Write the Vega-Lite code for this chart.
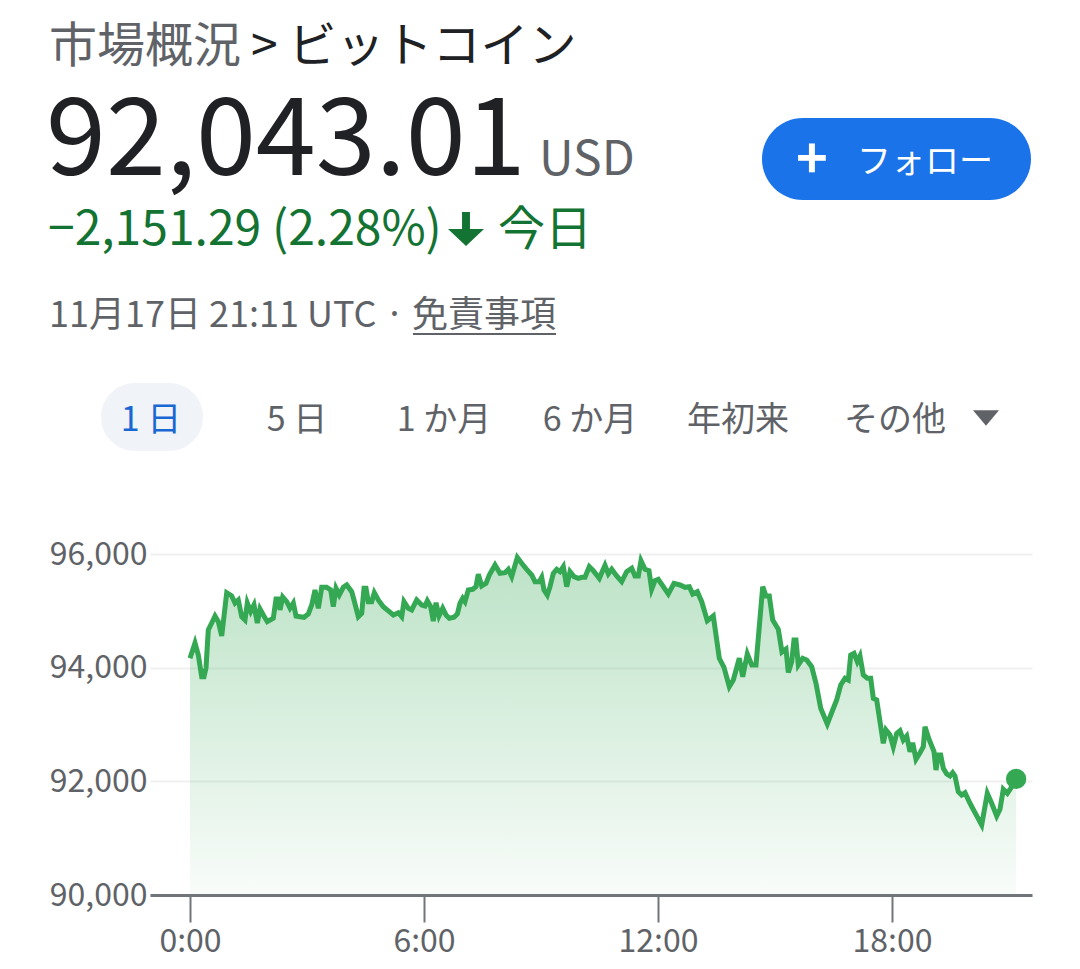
{
  "$schema": "https://vega.github.io/schema/vega-lite/v6.json",
  "padding": {"left": 0, "top": 0, "right": 0, "bottom": 10},
  "spacing": 0,
  "bounds": "flush",
  "background": "white",
  "config": {
    "view": {"stroke": null},
    "font": "Noto Sans CJK JP",
    "text": {"font": "Noto Sans CJK JP"},
    "axis": {"labelFont": "Noto Sans CJK JP", "titleFont": "Noto Sans CJK JP"}
  },
  "datasets": {
    "header": [
      {"id": "crumb", "text": "市場概況"},
      {"id": "crumb2", "text": "> ビットコイン"},
      {"id": "price", "text": "92,043.01"},
      {"id": "ccy", "text": "USD"},
      {"id": "change", "text": "−2,151.29 (2.28%)"},
      {"id": "arrow", "text": "↓"},
      {"id": "today", "text": "今日"},
      {"id": "time", "text": "11月17日 21:11 UTC ·"},
      {"id": "disclaimer", "text": "免責事項"},
      {"id": "button", "text": "フォロー"},
      {"id": "plus", "text": "+"},
      {"id": "follow", "text": "フォロー"},
      {"id": "tab1", "text": "1 日"},
      {"id": "tab2", "text": "5 日"},
      {"id": "tab3", "text": "1 か月"},
      {"id": "tab4", "text": "6 か月"},
      {"id": "tab5", "text": "年初来"},
      {"id": "tab6", "text": "その他"},
      {"id": "more", "text": "▼"}
    ],
    "prices": [
      {"hour": 0, "price": 94165}, {"hour": 0.128, "price": 94434}, {"hour": 0.213, "price": 94223}, {"hour": 0.3, "price": 93841},
      {"hour": 0.359, "price": 93841}, {"hour": 0.41, "price": 93994}, {"hour": 0.469, "price": 94663}, {"hour": 0.556, "price": 94786},
      {"hour": 0.641, "price": 94909}, {"hour": 0.726, "price": 94809}, {"hour": 0.813, "price": 94557}, {"hour": 0.941, "price": 95319},
      {"hour": 1.069, "price": 95261}, {"hour": 1.154, "price": 95138}, {"hour": 1.238, "price": 95191}, {"hour": 1.326, "price": 94897},
      {"hour": 1.41, "price": 94839}, {"hour": 1.469, "price": 95138}, {"hour": 1.556, "price": 94985}, {"hour": 1.641, "price": 95103},
      {"hour": 1.726, "price": 94786}, {"hour": 1.795, "price": 95032}, {"hour": 1.879, "price": 94927}, {"hour": 1.982, "price": 94809},
      {"hour": 2.136, "price": 94869}, {"hour": 2.205, "price": 95208}, {"hour": 2.264, "price": 95208}, {"hour": 2.308, "price": 95015},
      {"hour": 2.377, "price": 95243}, {"hour": 2.479, "price": 95161}, {"hour": 2.564, "price": 95045}, {"hour": 2.649, "price": 95138},
      {"hour": 2.718, "price": 94909}, {"hour": 2.821, "price": 94897}, {"hour": 2.923, "price": 94886}, {"hour": 3.033, "price": 94944},
      {"hour": 3.121, "price": 95103}, {"hour": 3.205, "price": 95367}, {"hour": 3.29, "price": 95045}, {"hour": 3.377, "price": 95414},
      {"hour": 3.505, "price": 95414}, {"hour": 3.608, "price": 95367}, {"hour": 3.674, "price": 95073}, {"hour": 3.744, "price": 95396},
      {"hour": 3.828, "price": 95279}, {"hour": 3.931, "price": 95414}, {"hour": 4.018, "price": 95455}, {"hour": 4.146, "price": 95337},
      {"hour": 4.205, "price": 95191}, {"hour": 4.315, "price": 94897}, {"hour": 4.403, "price": 94957}, {"hour": 4.462, "price": 95396},
      {"hour": 4.513, "price": 95396}, {"hour": 4.572, "price": 95161}, {"hour": 4.659, "price": 95161}, {"hour": 4.726, "price": 95319},
      {"hour": 4.828, "price": 95191}, {"hour": 4.956, "price": 95073}, {"hour": 5.11, "price": 94985}, {"hour": 5.213, "price": 94927},
      {"hour": 5.341, "price": 94967}, {"hour": 5.428, "price": 94897}, {"hour": 5.487, "price": 95161}, {"hour": 5.597, "price": 95045},
      {"hour": 5.685, "price": 95015}, {"hour": 5.813, "price": 95191}, {"hour": 5.941, "price": 95103}, {"hour": 6.026, "price": 95085},
      {"hour": 6.085, "price": 95178}, {"hour": 6.172, "price": 95073}, {"hour": 6.238, "price": 94821}, {"hour": 6.308, "price": 95143},
      {"hour": 6.385, "price": 94909}, {"hour": 6.479, "price": 95045}, {"hour": 6.564, "price": 94927}, {"hour": 6.649, "price": 94869},
      {"hour": 6.769, "price": 94886}, {"hour": 6.854, "price": 94944}, {"hour": 6.923, "price": 95133}, {"hour": 6.992, "price": 95221},
      {"hour": 7.051, "price": 95161}, {"hour": 7.136, "price": 95367}, {"hour": 7.249, "price": 95379}, {"hour": 7.333, "price": 95425},
      {"hour": 7.392, "price": 95643}, {"hour": 7.479, "price": 95437}, {"hour": 7.59, "price": 95484}, {"hour": 7.674, "price": 95631},
      {"hour": 7.821, "price": 95806}, {"hour": 7.949, "price": 95660}, {"hour": 8.077, "price": 95671}, {"hour": 8.162, "price": 95731},
      {"hour": 8.249, "price": 95601}, {"hour": 8.392, "price": 95940}, {"hour": 8.505, "price": 95836}, {"hour": 8.633, "price": 95731},
      {"hour": 8.762, "price": 95631}, {"hour": 8.846, "price": 95513}, {"hour": 8.956, "price": 95513}, {"hour": 9.018, "price": 95590},
      {"hour": 9.077, "price": 95367}, {"hour": 9.162, "price": 95279}, {"hour": 9.231, "price": 95425}, {"hour": 9.315, "price": 95660},
      {"hour": 9.403, "price": 95731}, {"hour": 9.487, "price": 95689}, {"hour": 9.572, "price": 95777}, {"hour": 9.659, "price": 95425},
      {"hour": 9.744, "price": 95689}, {"hour": 9.846, "price": 95601}, {"hour": 9.956, "price": 95572}, {"hour": 10.044, "price": 95590},
      {"hour": 10.128, "price": 95590}, {"hour": 10.238, "price": 95777}, {"hour": 10.341, "price": 95706}, {"hour": 10.495, "price": 95572},
      {"hour": 10.641, "price": 95800}, {"hour": 10.726, "price": 95650}, {"hour": 10.813, "price": 95731}, {"hour": 10.941, "price": 95613},
      {"hour": 11.069, "price": 95513}, {"hour": 11.197, "price": 95689}, {"hour": 11.326, "price": 95748}, {"hour": 11.41, "price": 95613},
      {"hour": 11.495, "price": 95613}, {"hour": 11.564, "price": 95882}, {"hour": 11.667, "price": 95731}, {"hour": 11.769, "price": 95706},
      {"hour": 11.838, "price": 95379}, {"hour": 11.923, "price": 95530}, {"hour": 12.008, "price": 95555}, {"hour": 12.136, "price": 95425},
      {"hour": 12.264, "price": 95296}, {"hour": 12.41, "price": 95484}, {"hour": 12.564, "price": 95455}, {"hour": 12.692, "price": 95414},
      {"hour": 12.803, "price": 95425}, {"hour": 12.89, "price": 95296}, {"hour": 13.008, "price": 95337}, {"hour": 13.121, "price": 95161},
      {"hour": 13.264, "price": 94826}, {"hour": 13.418, "price": 94909}, {"hour": 13.572, "price": 94165}, {"hour": 13.692, "price": 94006},
      {"hour": 13.828, "price": 93665}, {"hour": 13.931, "price": 93783}, {"hour": 14.085, "price": 94165}, {"hour": 14.172, "price": 93841},
      {"hour": 14.29, "price": 94240}, {"hour": 14.403, "price": 94047}, {"hour": 14.513, "price": 94047}, {"hour": 14.685, "price": 95425},
      {"hour": 14.769, "price": 95261}, {"hour": 14.854, "price": 95261}, {"hour": 14.941, "price": 94839}, {"hour": 15.085, "price": 94675},
      {"hour": 15.179, "price": 94276}, {"hour": 15.282, "price": 94328}, {"hour": 15.341, "price": 93915}, {"hour": 15.428, "price": 94105},
      {"hour": 15.487, "price": 94487}, {"hour": 15.538, "price": 94487}, {"hour": 15.597, "price": 94047}, {"hour": 15.71, "price": 94165},
      {"hour": 15.813, "price": 94135}, {"hour": 15.941, "price": 94017}, {"hour": 16.051, "price": 93725}, {"hour": 16.172, "price": 93285},
      {"hour": 16.341, "price": 93009}, {"hour": 16.479, "price": 93255}, {"hour": 16.582, "price": 93431}, {"hour": 16.685, "price": 93695},
      {"hour": 16.795, "price": 93813}, {"hour": 16.879, "price": 93783}, {"hour": 16.941, "price": 94223}, {"hour": 17.026, "price": 94253},
      {"hour": 17.11, "price": 94105}, {"hour": 17.179, "price": 94205}, {"hour": 17.264, "price": 93871}, {"hour": 17.367, "price": 93813},
      {"hour": 17.454, "price": 93813}, {"hour": 17.521, "price": 93461}, {"hour": 17.608, "price": 93431}, {"hour": 17.777, "price": 92669},
      {"hour": 17.846, "price": 92903}, {"hour": 17.949, "price": 92815}, {"hour": 18.033, "price": 92609}, {"hour": 18.121, "price": 92845},
      {"hour": 18.205, "price": 92891}, {"hour": 18.29, "price": 92727}, {"hour": 18.377, "price": 92798}, {"hour": 18.462, "price": 92522},
      {"hour": 18.531, "price": 92680}, {"hour": 18.615, "price": 92388}, {"hour": 18.718, "price": 92504}, {"hour": 18.803, "price": 92609},
      {"hour": 18.846, "price": 92961}, {"hour": 18.956, "price": 92727}, {"hour": 19.077, "price": 92522}, {"hour": 19.128, "price": 92199},
      {"hour": 19.187, "price": 92463}, {"hour": 19.249, "price": 92463}, {"hour": 19.316, "price": 92229}, {"hour": 19.403, "price": 92129},
      {"hour": 19.487, "price": 92094}, {"hour": 19.556, "price": 92152}, {"hour": 19.615, "price": 92094}, {"hour": 19.7, "price": 91818},
      {"hour": 19.787, "price": 91760}, {"hour": 19.872, "price": 91800}, {"hour": 20.0, "price": 91614}, {"hour": 20.128, "price": 91448},
      {"hour": 20.3, "price": 91232}, {"hour": 20.444, "price": 91790}, {"hour": 20.556, "price": 91614}, {"hour": 20.685, "price": 91390},
      {"hour": 20.769, "price": 91508}, {"hour": 20.854, "price": 91860}, {"hour": 20.956, "price": 91790}, {"hour": 21.044, "price": 91877},
      {"hour": 21.183, "price": 92043.01}
    ]
  },
  "vconcat": [
    {
      "width": 930,
      "height": 554,
      "data": {"name": "header"},
      "layer": [
        {
          "transform": [{"filter": "datum.id === 'crumb'"}],
          "mark": {"type": "text", "align": "left", "baseline": "alphabetic", "fontSize": 48, "color": "#5f6368"},
          "encoding": {
            "x": {"datum": 49, "type": "quantitative", "scale": {"domain": [150, 1080], "nice": false}, "axis": null},
            "y": {"datum": 62, "type": "quantitative", "scale": {"domain": [0, 554], "nice": false, "reverse": true}, "axis": null},
            "text": {"field": "text"}
          }
        },
        {
          "transform": [{"filter": "datum.id === 'crumb2'"}],
          "mark": {"type": "text", "align": "left", "baseline": "alphabetic", "fontSize": 48, "color": "#202124"},
          "encoding": {
            "x": {"datum": 251, "type": "quantitative", "scale": {"domain": [150, 1080], "nice": false}, "axis": null},
            "y": {"datum": 62, "type": "quantitative", "scale": {"domain": [0, 554], "nice": false, "reverse": true}, "axis": null},
            "text": {"field": "text"}
          }
        },
        {
          "transform": [{"filter": "datum.id === 'price'"}],
          "mark": {"type": "text", "align": "left", "baseline": "alphabetic", "fontSize": 108, "color": "#202124"},
          "encoding": {
            "x": {"datum": 46, "type": "quantitative", "scale": {"domain": [150, 1080], "nice": false}, "axis": null},
            "y": {"datum": 175, "type": "quantitative", "scale": {"domain": [0, 554], "nice": false, "reverse": true}, "axis": null},
            "text": {"field": "text"}
          }
        },
        {
          "transform": [{"filter": "datum.id === 'ccy'"}],
          "mark": {"type": "text", "align": "left", "baseline": "alphabetic", "fontSize": 48, "color": "#5f6368"},
          "encoding": {
            "x": {"datum": 539, "type": "quantitative", "scale": {"domain": [150, 1080], "nice": false}, "axis": null},
            "y": {"datum": 175, "type": "quantitative", "scale": {"domain": [0, 554], "nice": false, "reverse": true}, "axis": null},
            "text": {"field": "text"}
          }
        },
        {
          "transform": [{"filter": "datum.id === 'change'"}],
          "mark": {"type": "text", "align": "left", "baseline": "alphabetic", "fontSize": 48, "color": "#137333"},
          "encoding": {
            "x": {"datum": 48, "type": "quantitative", "scale": {"domain": [150, 1080], "nice": false}, "axis": null},
            "y": {"datum": 245, "type": "quantitative", "scale": {"domain": [0, 554], "nice": false, "reverse": true}, "axis": null},
            "text": {"field": "text"}
          }
        },
        {
          "transform": [{"filter": "datum.id === 'arrow'"}],
          "mark": {"type": "point", "shape": "M-0.22,-0.95L0.22,-0.95L0.22,0L1,0L0,0.95L-1,0L-0.22,0Z", "size": 1296, "filled": true, "color": "#137333", "opacity": 1},
          "encoding": {
            "x": {"datum": 466, "type": "quantitative", "scale": {"domain": [150, 1080], "nice": false}, "axis": null},
            "y": {"datum": 229, "type": "quantitative", "scale": {"domain": [0, 554], "nice": false, "reverse": true}, "axis": null}
          }
        },
        {
          "transform": [{"filter": "datum.id === 'today'"}],
          "mark": {"type": "text", "align": "left", "baseline": "alphabetic", "fontSize": 47, "color": "#137333"},
          "encoding": {
            "x": {"datum": 498, "type": "quantitative", "scale": {"domain": [150, 1080], "nice": false}, "axis": null},
            "y": {"datum": 245, "type": "quantitative", "scale": {"domain": [0, 554], "nice": false, "reverse": true}, "axis": null},
            "text": {"field": "text"}
          }
        },
        {
          "transform": [{"filter": "datum.id === 'time'"}],
          "mark": {"type": "text", "align": "left", "baseline": "alphabetic", "fontSize": 36, "color": "#5f6368"},
          "encoding": {
            "x": {"datum": 49, "type": "quantitative", "scale": {"domain": [150, 1080], "nice": false}, "axis": null},
            "y": {"datum": 327, "type": "quantitative", "scale": {"domain": [0, 554], "nice": false, "reverse": true}, "axis": null},
            "text": {"field": "text"}
          }
        },
        {
          "transform": [{"filter": "datum.id === 'disclaimer'"}],
          "mark": {"type": "text", "align": "left", "baseline": "alphabetic", "fontSize": 36, "color": "#5f6368"},
          "encoding": {
            "x": {"datum": 412, "type": "quantitative", "scale": {"domain": [150, 1080], "nice": false}, "axis": null},
            "y": {"datum": 327, "type": "quantitative", "scale": {"domain": [0, 554], "nice": false, "reverse": true}, "axis": null},
            "text": {"field": "text"}
          }
        },
        {
          "transform": [{"filter": "datum.id === 'disclaimer'"}],
          "mark": {"type": "rule", "strokeWidth": 2, "color": "#5f6368"},
          "encoding": {
            "x": {"datum": 413, "type": "quantitative", "scale": {"domain": [150, 1080], "nice": false}, "axis": null},
            "x2": {"datum": 556},
            "y": {"datum": 334, "type": "quantitative", "scale": {"domain": [0, 554], "nice": false, "reverse": true}, "axis": null}
          }
        },
        {
          "transform": [{"filter": "datum.id === 'button'"}],
          "mark": {"type": "rect", "cornerRadius": 41, "color": "#1a73e8"},
          "encoding": {
            "x": {"datum": 762, "type": "quantitative", "scale": {"domain": [150, 1080], "nice": false}, "axis": null},
            "x2": {"datum": 1031},
            "y": {"datum": 118, "type": "quantitative", "scale": {"domain": [0, 554], "nice": false, "reverse": true}, "axis": null},
            "y2": {"datum": 200}
          }
        },
        {
          "transform": [{"filter": "datum.id === 'plus'"}],
          "mark": {"type": "text", "align": "center", "baseline": "middle", "fontSize": 54, "fontWeight": "bold", "color": "white"},
          "encoding": {
            "x": {"datum": 812, "type": "quantitative", "scale": {"domain": [150, 1080], "nice": false}, "axis": null},
            "y": {"datum": 162, "type": "quantitative", "scale": {"domain": [0, 554], "nice": false, "reverse": true}, "axis": null},
            "text": {"field": "text"}
          }
        },
        {
          "transform": [{"filter": "datum.id === 'follow'"}],
          "mark": {"type": "text", "align": "left", "baseline": "middle", "fontSize": 34, "color": "white"},
          "encoding": {
            "x": {"datum": 857, "type": "quantitative", "scale": {"domain": [150, 1080], "nice": false}, "axis": null},
            "y": {"datum": 163, "type": "quantitative", "scale": {"domain": [0, 554], "nice": false, "reverse": true}, "axis": null},
            "text": {"field": "text"}
          }
        },
        {
          "transform": [{"filter": "datum.id === 'tab1'"}],
          "mark": {"type": "rect", "cornerRadius": 34, "color": "#f0f3f8"},
          "encoding": {
            "x": {"datum": 101, "type": "quantitative", "scale": {"domain": [150, 1080], "nice": false}, "axis": null},
            "x2": {"datum": 203},
            "y": {"datum": 383, "type": "quantitative", "scale": {"domain": [0, 554], "nice": false, "reverse": true}, "axis": null},
            "y2": {"datum": 451}
          }
        },
        {
          "transform": [{"filter": "datum.id === 'tab1'"}],
          "mark": {"type": "text", "align": "center", "baseline": "alphabetic", "fontSize": 34, "color": "#1967d2"},
          "encoding": {
            "x": {"datum": 151, "type": "quantitative", "scale": {"domain": [150, 1080], "nice": false}, "axis": null},
            "y": {"datum": 431, "type": "quantitative", "scale": {"domain": [0, 554], "nice": false, "reverse": true}, "axis": null},
            "text": {"field": "text"}
          }
        },
        {
          "transform": [{"filter": "datum.id === 'tab2'"}],
          "mark": {"type": "text", "align": "center", "baseline": "alphabetic", "fontSize": 34, "color": "#5f6368"},
          "encoding": {
            "x": {"datum": 297, "type": "quantitative", "scale": {"domain": [150, 1080], "nice": false}, "axis": null},
            "y": {"datum": 431, "type": "quantitative", "scale": {"domain": [0, 554], "nice": false, "reverse": true}, "axis": null},
            "text": {"field": "text"}
          }
        },
        {
          "transform": [{"filter": "datum.id === 'tab3'"}],
          "mark": {"type": "text", "align": "center", "baseline": "alphabetic", "fontSize": 34, "color": "#5f6368"},
          "encoding": {
            "x": {"datum": 444, "type": "quantitative", "scale": {"domain": [150, 1080], "nice": false}, "axis": null},
            "y": {"datum": 431, "type": "quantitative", "scale": {"domain": [0, 554], "nice": false, "reverse": true}, "axis": null},
            "text": {"field": "text"}
          }
        },
        {
          "transform": [{"filter": "datum.id === 'tab4'"}],
          "mark": {"type": "text", "align": "center", "baseline": "alphabetic", "fontSize": 34, "color": "#5f6368"},
          "encoding": {
            "x": {"datum": 590, "type": "quantitative", "scale": {"domain": [150, 1080], "nice": false}, "axis": null},
            "y": {"datum": 431, "type": "quantitative", "scale": {"domain": [0, 554], "nice": false, "reverse": true}, "axis": null},
            "text": {"field": "text"}
          }
        },
        {
          "transform": [{"filter": "datum.id === 'tab5'"}],
          "mark": {"type": "text", "align": "center", "baseline": "alphabetic", "fontSize": 34, "color": "#5f6368"},
          "encoding": {
            "x": {"datum": 738, "type": "quantitative", "scale": {"domain": [150, 1080], "nice": false}, "axis": null},
            "y": {"datum": 431, "type": "quantitative", "scale": {"domain": [0, 554], "nice": false, "reverse": true}, "axis": null},
            "text": {"field": "text"}
          }
        },
        {
          "transform": [{"filter": "datum.id === 'tab6'"}],
          "mark": {"type": "text", "align": "center", "baseline": "alphabetic", "fontSize": 34, "color": "#5f6368"},
          "encoding": {
            "x": {"datum": 895, "type": "quantitative", "scale": {"domain": [150, 1080], "nice": false}, "axis": null},
            "y": {"datum": 431, "type": "quantitative", "scale": {"domain": [0, 554], "nice": false, "reverse": true}, "axis": null},
            "text": {"field": "text"}
          }
        },
        {
          "transform": [{"filter": "datum.id === 'more'"}],
          "mark": {"type": "point", "shape": "M-1,-0.6L1,-0.6L0,0.6Z", "size": 676, "filled": true, "color": "#5f6368", "opacity": 1},
          "encoding": {
            "x": {"datum": 986, "type": "quantitative", "scale": {"domain": [150, 1080], "nice": false}, "axis": null},
            "y": {"datum": 418, "type": "quantitative", "scale": {"domain": [0, 554], "nice": false, "reverse": true}, "axis": null}
          }
        }
      ]
    },
    {
      "width": 882,
      "height": 341,
      "data": {"name": "prices"},
      "encoding": {
        "x": {
          "field": "hour",
          "type": "quantitative",
          "scale": {"domain": [-1.026, 21.59], "nice": false, "zero": false},
          "axis": {
            "values": [0, 6, 12, 18],
            "labelExpr": "datum.value + ':00'",
            "grid": false,
            "title": null,
            "tickSize": 27,
            "tickWidth": 2,
            "tickColor": "#70757a",
            "domainColor": "#70757a",
            "domainWidth": 3,
            "labelFontSize": 32,
            "labelColor": "#5f6368",
            "labelPadding": 4
          }
        },
        "y": {
          "field": "price",
          "type": "quantitative",
          "scale": {"domain": [90000, 96000], "nice": false, "zero": false},
          "axis": {
            "values": [90000, 92000, 94000, 96000],
            "format": ",.0f",
            "grid": true,
            "gridColor": "#f0f0f0",
            "gridWidth": 2,
            "ticks": false,
            "domain": false,
            "title": null,
            "labelFontSize": 32,
            "labelColor": "#5f6368",
            "labelPadding": 3,
            "minExtent": 150,
            "maxExtent": 150
          }
        }
      },
      "layer": [
        {
          "mark": {
            "type": "area",
            "color": {
              "gradient": "linear",
              "x1": 0, "y1": 0, "x2": 0, "y2": 1,
              "stops": [
                {"offset": 0, "color": "rgba(52,168,83,0.33)"},
                {"offset": 1, "color": "rgba(52,168,83,0.03)"}
              ]
            }
          },
          "encoding": {
            "y2": {"datum": 90000}
          }
        },
        {
          "mark": {"type": "line", "color": "#34a853", "strokeWidth": 5}
        },
        {
          "transform": [
            {"joinaggregate": [{"op": "max", "field": "hour", "as": "maxHour"}]},
            {"filter": "datum.hour === datum.maxHour"}
          ],
          "mark": {"type": "point", "filled": true, "size": 415, "color": "#34a853", "opacity": 1}
        }
      ]
    }
  ]
}
